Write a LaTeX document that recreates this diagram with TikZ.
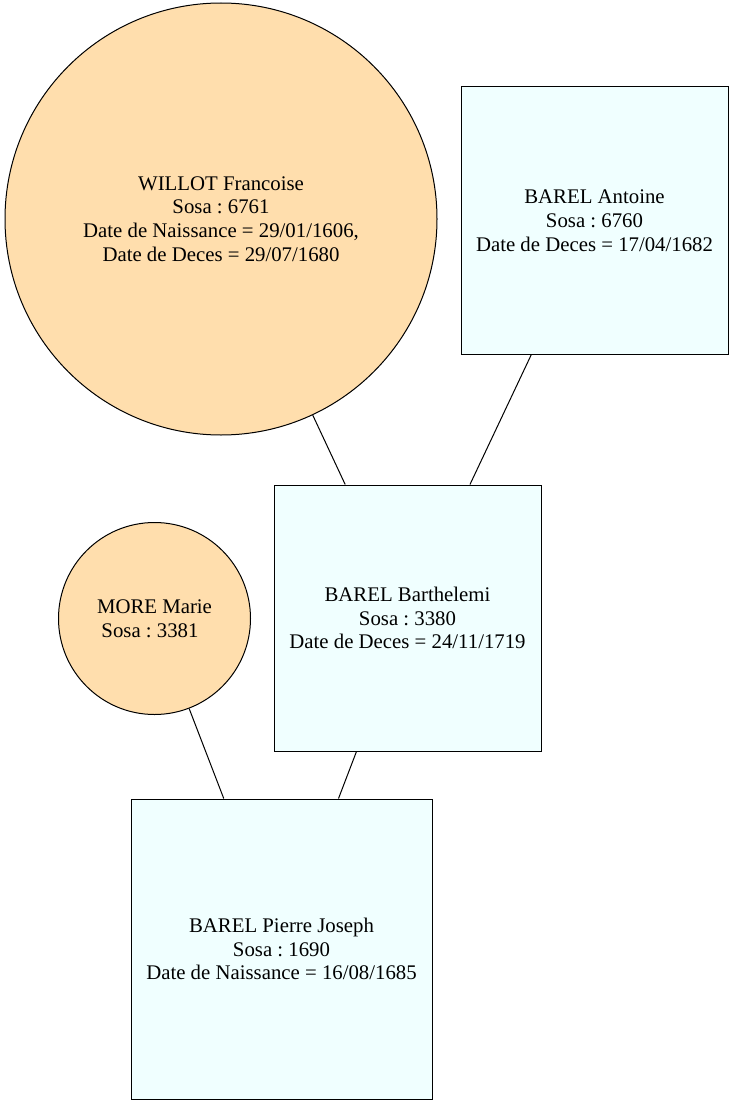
\documentclass[tikz,border=0pt]{standalone}
\usepackage{fontspec}
\setmainfont{Liberation Serif}
\frenchspacing
\definecolor{womanfill}{RGB}{255,222,173}
\definecolor{manfill}{RGB}{240,255,255}
\begin{document}
\begin{tikzpicture}[x=1pt,y=-1pt,
  every node/.style={font=\fontsize{20.8}{23.8}\selectfont, align=center, inner sep=0pt, line width=1pt},
  woman/.style={circle, draw=black, fill=womanfill},
  man/.style={rectangle, draw=black, fill=manfill},
  link/.style={draw=black, line width=1pt}]
\useasboundingbox (0,0) rectangle (733,1105);

% people
\node[woman, minimum size=432pt] (willot) at (221,219)
  {WILLOT Francoise\\Sosa : 6761\\Date de Naissance = 29/01/1606,\\Date de Deces = 29/07/1680};
\node[man, minimum width=267pt, minimum height=267pt] (antoine) at (594.5,220.5)
  {BAREL Antoine\\Sosa : 6760\\Date de Deces = 17/04/1682};
\node[man, minimum width=267pt, minimum height=266pt] (barthelemi) at (407.5,618)
  {BAREL Barthelemi\\Sosa : 3380\\Date de Deces = 24/11/1719};
\node[woman, minimum size=192pt] (more) at (154.5,618.5)
  {MORE Marie\\Sosa : 3381\hspace*{9pt}};
\node[man, minimum width=301pt, minimum height=300pt] (pierre) at (281.5,949)
  {BAREL Pierre Joseph\\Sosa : 1690\\Date de Naissance = 16/08/1685};

% parent links
\draw[link] (willot) -- (barthelemi);
\draw[link] (antoine) -- (barthelemi);
\draw[link] (more) -- (pierre);
\draw[link] (barthelemi) -- (pierre);
\end{tikzpicture}
\end{document}
